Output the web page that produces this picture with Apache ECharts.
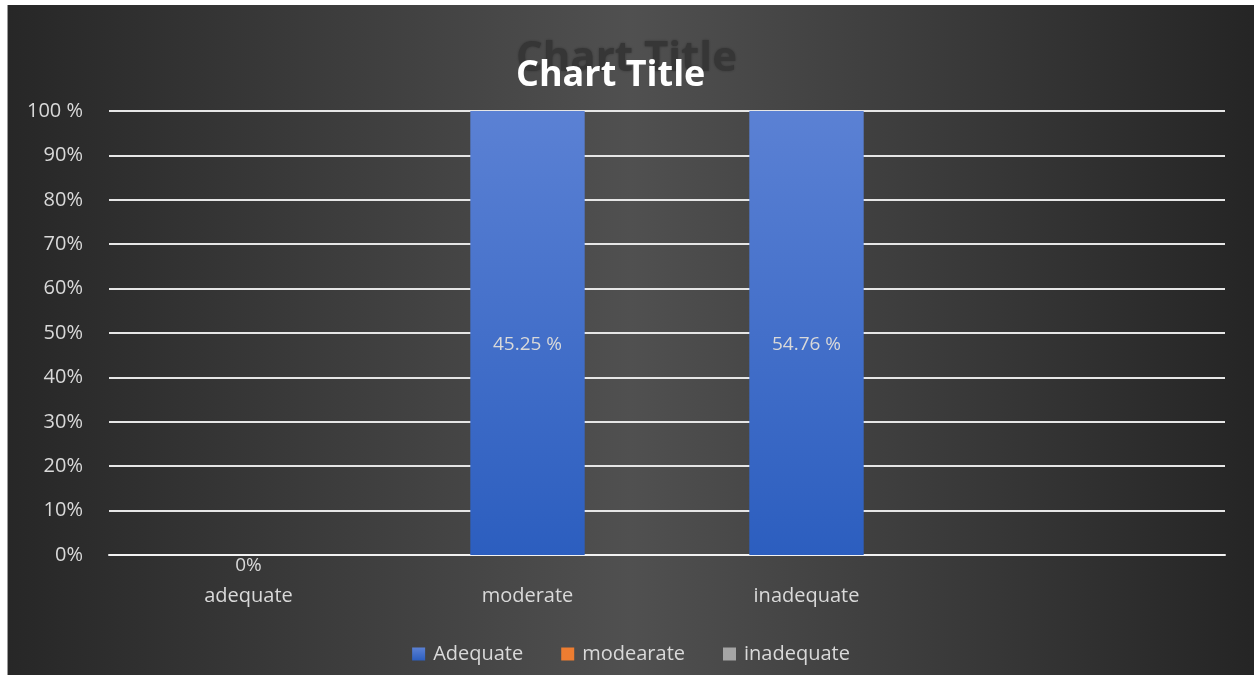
<!DOCTYPE html>
<html>
<head>
<meta charset="utf-8">
<script src="https://cdn.jsdelivr.net/npm/echarts@6.0.0/dist/echarts.min.js"></script>
</head>
<body style="margin:0; padding:0; background:#ffffff;">
<div id="chart" style="position:absolute; left:7px; top:5px; width:1247px; height:670px; border-left:1px solid #9a9a9a; box-sizing:border-box;"></div>
<script type="text/javascript">
// categories and series (4th category is empty, like the Excel source)
var categories = ['adequate', 'moderate', 'inadequate', ''];
var seriesNames = ['Adequate', 'modearate', 'inadequate'];
var adequateValues = [0, 45.25, 54.76, null];
var modearateValues = [0, 0, 0, null];
var inadequateValues = [0, 0, 0, null];
var yTicks = ['0%', '10%', '20%', '30%', '40%', '50%', '60%', '70%', '80%', '90%', '100 %'];

var raw = [adequateValues, modearateValues, inadequateValues];
var colors = ['#4472c4', '#ed7d31', '#a5a5a5'];

// 100% stacked: share of each series in its category
var totals = categories.map(function (c, i) {
  var s = 0;
  raw.forEach(function (arr) { s += arr[i] || 0; });
  return s;
});

function pctLabel(v) {
  if (v === 0) return '0%';
  return v.toFixed(2) + ' %';
}

var font = '"Open Sans", "Noto Sans", sans-serif';

var series = raw.map(function (arr, k) {
  return {
    name: seriesNames[k],
    type: 'bar',
    stack: 'total',
    barWidth: '41%',
    itemStyle: {
      color: k === 0 ? new echarts.graphic.LinearGradient(0, 0, 0, 1, [
        { offset: 0, color: '#5b81d4' },
        { offset: 1, color: '#2c5ebf' }
      ]) : colors[k],
      borderWidth: 0
    },
    data: arr.map(function (v, i) {
      if (v === null) return null;
      var share = totals[i] ? v / totals[i] * 100 : 0;
      var item = { value: share };
      if (k === 0) {
        item.label = {
          show: true,
          position: share === 0 ? 'bottom' : 'inside',
          distance: 1,
          offset: share === 0 ? [0, 0] : [0, 12],
          color: '#d9d9d9',
          fontSize: 19,
          fontFamily: font,
          formatter: function () { return pctLabel(v); }
        };
      }
      return item;
    })
  };
});

var option = {
  backgroundColor: new echarts.graphic.LinearGradient(0, 0, 1, 0, [
    { offset: 0, color: '#272727' },
    { offset: 0.5, color: '#505050' },
    { offset: 1, color: '#252525' }
  ]),
  color: colors,
  title: [{
    text: 'Chart Title',
    left: 503,
    top: 28,
    textStyle: {
      color: '#363636',
      fontSize: 42,
      fontWeight: 'bold',
      fontFamily: font,
      textShadowColor: '#363636',
      textShadowBlur: 3
    }
  }, {
    text: 'Chart Title',
    left: 503,
    top: 48,
    textStyle: {
      color: '#ffffff',
      fontSize: 36,
      fontWeight: 'bold',
      fontFamily: font
    }
  }],
  legend: {
    bottom: 6,
    left: 'center',
    itemWidth: 13,
    itemHeight: 13,
    itemGap: 38,
    icon: 'rect',
    data: seriesNames,
    textStyle: {
      color: '#d9d9d9',
      fontSize: 20,
      fontFamily: font,
      padding: [14, 0, 0, 3]
    }
  },
  grid: {
    left: 101,
    right: 29,
    top: 106,
    bottom: 120
  },
  xAxis: {
    type: 'category',
    data: categories,
    axisLine: { show: true, lineStyle: { color: '#f2f2f2', width: 2 } },
    axisTick: { show: false },
    axisLabel: {
      color: '#d9d9d9',
      fontSize: 20,
      fontFamily: font,
      margin: 31,
      interval: 0
    }
  },
  yAxis: {
    type: 'value',
    min: 0,
    max: 100,
    interval: 10,
    axisLine: { show: false },
    axisTick: { show: false },
    splitLine: { lineStyle: { color: '#e6e6e6', width: 2 } },
    axisLabel: {
      color: '#d9d9d9',
      fontSize: 20,
      fontFamily: font,
      margin: 26,
      formatter: function (v) { return yTicks[Math.round(v / 10)]; }
    }
  },
  series: series
};

var myChart = echarts.init(document.getElementById('chart'));
myChart.setOption(option);
window.onresize = function () { myChart.resize(); };
</script>
</body>
</html>
